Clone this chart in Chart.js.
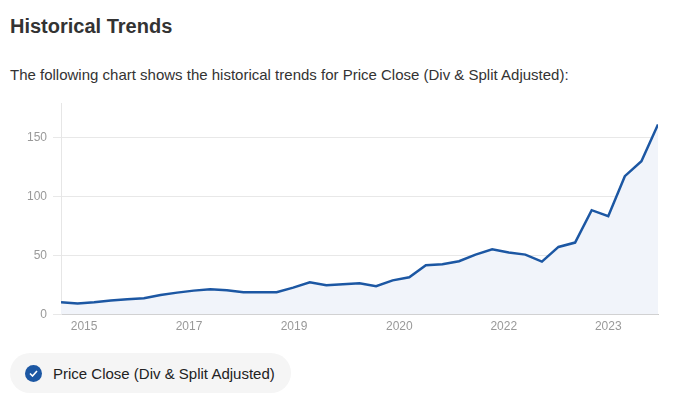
<!DOCTYPE html>
<html lang="en">
<head>
    <meta charset="UTF-8">
    <title>Historical Trends</title>
    <script src="https://cdn.jsdelivr.net/npm/chart.js"></script>
    <style>
        body {
            margin: 0;
            width: 674px;
            height: 414px;
            background: #fff;
            font-family: "Liberation Sans", Arial, sans-serif;
            color: #333;
            position: relative;
            overflow: hidden;
        }
        h2 {
            position: absolute;
            left: 10px;
            top: 15px;
            margin: 0;
            font-size: 20px;
            font-weight: bold;
            color: #333;
        }
        p.sub {
            position: absolute;
            left: 10px;
            top: 66px;
            margin: 0;
            font-size: 15px;
            color: #333;
        }
        #chartBox {
            position: absolute;
            left: 0;
            top: 90px;
            width: 674px;
            height: 249px;
        }
        #legend {
            position: absolute;
            left: 10px;
            top: 353px;
            height: 40px;
            padding: 0 16px 0 15px;
            border-radius: 20px;
            background: #f5f5f5;
            display: flex;
            align-items: center;
            font-size: 15px;
            color: #222;
        }
        #legend .dot {
            width: 17px;
            height: 17px;
            border-radius: 50%;
            margin-right: 11px;
            display: flex;
            align-items: center;
            justify-content: center;
        }
    </style>
</head>
<body>
    <h2>Historical Trends</h2>
    <p class="sub">The following chart shows the historical trends for Price Close (Div &amp; Split Adjusted):</p>
    <div id="chartBox"><canvas id="trendChart"></canvas></div>
    <div id="legend"></div>
    <script>
        // quarterly closes
        const seriesName = 'Price Close (Div & Split Adjusted)';
        const priceClose = [10.4, 9.3, 10.4, 12, 13, 13.8, 16.6, 18.6, 20.3, 21.4,
            20.6, 18.9, 18.9, 18.9, 22.8, 27.4, 24.8, 25.6, 26.5, 24,
            29, 31.6, 41.8, 42.6, 45.2, 50.8, 55.3, 52.5, 50.8, 44.9,
            57.3, 61, 88.4, 83.3, 117.2, 129.9, 161];
        // where the year labels fall, counted in quarters from the first point
        const yearTickAt = [1.39, 7.72, 14.05, 20.4, 26.7, 33.0];
        const yearLabels = ['2015', '2017', '2019', '2020', '2022', '2023'];
        const yTicks = [0, 50, 100, 150];
        const lineColor = '#1c57a3';

        const points = priceClose.map((v, i) => ({ x: i, y: v }));

        const ctx = document.getElementById('trendChart').getContext('2d');
        new Chart(ctx, {
            type: 'line',
            data: {
                datasets: [{
                    label: seriesName,
                    data: points,
                    borderColor: lineColor,
                    borderWidth: 2.5,
                    backgroundColor: '#f1f4fa',
                    fill: 'origin',
                    pointRadius: 0,
                    tension: 0
                }]
            },
            options: {
                responsive: true,
                maintainAspectRatio: false,
                animation: false,
                layout: { padding: { left: 21, right: 16, top: 0, bottom: 0 } },
                plugins: {
                    legend: { display: false },
                    tooltip: { enabled: false }
                },
                scales: {
                    x: {
                        type: 'linear',
                        min: 0,
                        max: priceClose.length - 1,
                        afterBuildTicks: axis => {
                            axis.ticks = yearTickAt.map(v => ({ value: v }));
                        },
                        ticks: {
                            autoSkip: false,
                            maxRotation: 0,
                            padding: 5,
                            color: '#999',
                            font: { family: 'Liberation Sans', size: 12 },
                            callback: (val, i) => yearLabels[i]
                        },
                        grid: { display: false, drawTicks: false, tickLength: 0 },
                        border: { color: '#ccc' }
                    },
                    y: {
                        min: 0,
                        max: 179,
                        afterBuildTicks: axis => {
                            axis.ticks = yTicks.map(v => ({ value: v }));
                        },
                        ticks: {
                            color: '#999',
                            padding: 6,
                            font: { family: 'Liberation Sans', size: 12 }
                        },
                        grid: { color: '#e8e8e8', tickLength: 8 },
                        border: { color: '#e6e6e6' }
                    }
                }
            }
        });

        // legend pill
        const legend = document.getElementById('legend');
        legend.innerHTML = '<span class="dot" style="background:' + lineColor + '">' +
            '<svg width="9" height="7" viewBox="0 0 9 7"><path d="M1 3.5 L3.5 6 L8 1" stroke="#fff" stroke-width="1.6" fill="none"/></svg>' +
            '</span><span></span>';
        legend.lastChild.textContent = seriesName;
    </script>
</body>
</html>
